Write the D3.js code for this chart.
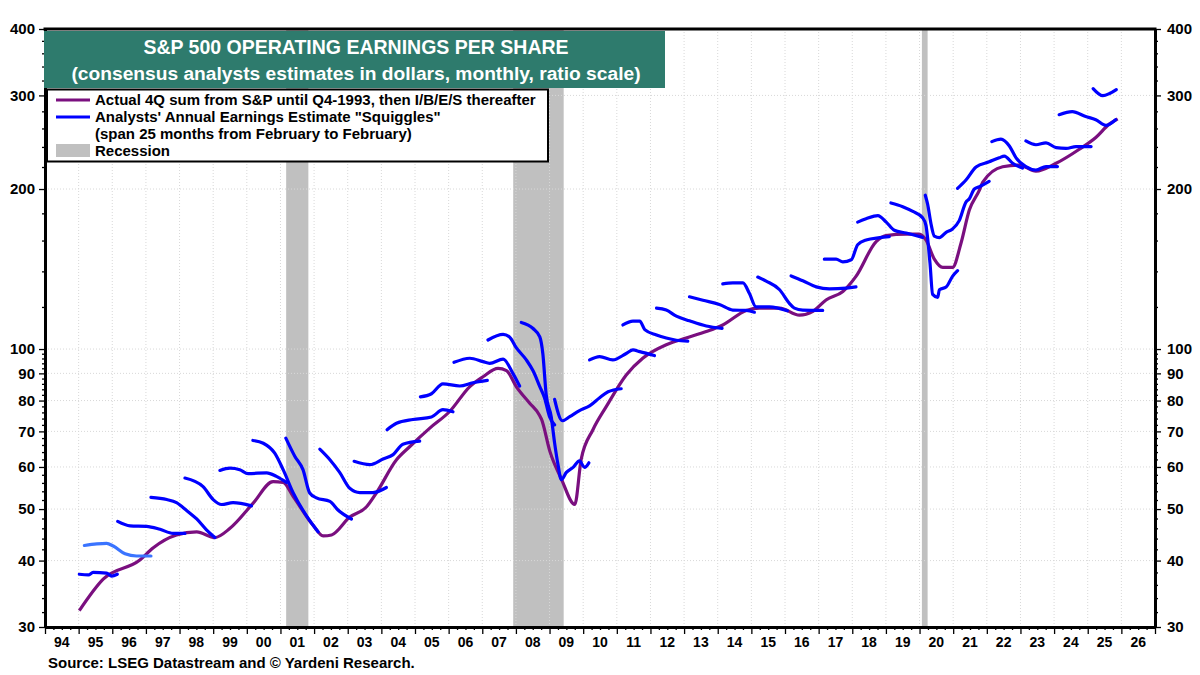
<!DOCTYPE html>
<html>
<head>
<meta charset="utf-8">
<script src="https://cdn.jsdelivr.net/npm/d3@7"></script>
<style>
  body { margin: 0; background: #fff; }
  svg { display: block; font-family: "Liberation Sans", Arial, sans-serif; font-weight: bold; }
</style>
</head>
<body>
<svg id="chart" width="1200" height="675"></svg>
<script>
// actual 4Q sum (decimal year, dollars)
const actualDates = [1995.02, 1995.73, 1996.82, 1997.22, 1997.91, 1998.51, 1999.05, 1999.50, 2000.19, 2000.78,
  2001.08, 2001.38, 2001.97, 2002.27, 2002.52, 2003.06, 2003.56, 2003.85, 2004.45, 2004.84, 2005.44, 2006.03,
  2006.63, 2007.02, 2007.47, 2007.72, 2008.01, 2008.41, 2008.70, 2008.76, 2009.01, 2009.35, 2009.75, 2009.94,
  2010.29, 2010.69, 2011.28, 2011.77, 2012.47, 2013.06, 2013.66, 2014.15, 2014.85, 2015.24, 2015.84, 2016.43,
  2016.83, 2017.22, 2017.72, 2018.11, 2018.71, 2019.00, 2019.60, 2019.99, 2020.19, 2020.44, 2020.69, 2020.98,
  2021.23, 2021.48, 2021.78, 2021.88, 2022.47, 2022.97, 2023.46, 2024.06, 2024.75, 2025.24, 2025.64, 2025.89];
const actualValues = [32.2, 36.9, 40.1, 42.3, 44.7, 45.3, 44.2, 46.0, 51.3, 56.3,
  56.1, 52.8, 46.6, 44.5, 44.7, 48.3, 50.5, 53.6, 61.9, 65.5, 71.0, 76.3,
  85.0, 88.7, 92.0, 91.1, 85.0, 79.1, 75.1, 73.8, 64.2, 57.0, 51.0, 62.0,
  70.5, 78.0, 89.4, 96.1, 101.9, 104.9, 107.9, 111.0, 118.2, 119.4, 119.4, 115.8,
  117.7, 123.7, 128.3, 137.0, 159.3, 163.5, 164.5, 164.5, 160.4, 147.6, 142.4, 142.4,
  158.0, 182.6, 199.0, 206.0, 220.3, 221.9, 216.0, 223.6, 237.6, 250.0, 264.9, 271.0];

// analysts' annual estimate squiggles, one per estimated year
const squiggleYears = [1995, 1996, 1997, 1998, 1999, 2000, 2001, 2002, 2003, 2004, 2005, 2006, 2007, 2008,
  2009, 2010, 2011, 2012, 2013, 2014, 2015, 2016, 2017, 2018, 2019, 2020, 2021, 2022, 2023, 2024, 2025, 2026];
const squiggleDates = [
  [1995.02, 1995.29, 1995.43, 1995.83, 1995.98, 1996.15],
  [1995.17, 1995.54, 1995.83, 1996.03, 1996.38, 1996.72, 1997.15],
  [1996.16, 1996.53, 1997.02, 1997.42, 1997.81, 1998.16],
  [1997.15, 1997.62, 1997.91, 1998.21, 1998.51, 1998.80, 1999.05],
  [1998.16, 1998.70, 1999.00, 1999.25, 1999.59, 2000.14],
  [1999.20, 1999.50, 1999.79, 2000.04, 2000.59, 2000.88, 2001.18],
  [2000.18, 2000.49, 2000.83, 2001.08, 2001.38, 2001.77, 2002.12],
  [2001.16, 2001.43, 2001.67, 2001.87, 2002.07, 2002.47, 2002.71, 2003.11],
  [2002.17, 2002.47, 2002.76, 2003.06, 2003.36, 2003.75, 2004.15],
  [2003.19, 2003.66, 2004.05, 2004.35, 2004.64, 2005.14],
  [2004.17, 2004.45, 2004.94, 2005.49, 2005.83, 2006.13],
  [2005.16, 2005.49, 2005.83, 2006.33, 2006.72, 2007.15],
  [2006.16, 2006.63, 2007.02, 2007.22, 2007.62, 2007.91, 2008.11],
  [2007.17, 2007.62, 2007.81, 2008.01, 2008.31, 2008.51, 2008.71, 2008.85, 2009.00, 2009.15],
  [2008.16, 2008.51, 2008.71, 2008.80, 2008.90, 2009.05, 2009.15, 2009.25, 2009.35, 2009.50, 2009.70, 2009.89, 2010.04, 2010.17],
  [2009.15, 2009.38, 2009.60, 2009.89, 2010.19, 2010.49, 2010.74, 2011.13],
  [2010.19, 2010.49, 2010.88, 2011.28, 2011.48, 2011.68, 2012.12],
  [2011.18, 2011.48, 2011.68, 2011.83, 2012.18, 2012.47, 2012.77, 2013.11],
  [2012.18, 2012.47, 2012.77, 2013.16, 2013.66, 2014.13],
  [2013.16, 2013.56, 2014.05, 2014.45, 2014.85, 2015.09],
  [2014.15, 2014.45, 2014.75, 2014.94, 2015.14, 2015.54, 2016.07],
  [2015.19, 2015.44, 2015.84, 2016.13, 2016.28, 2016.53, 2017.12],
  [2016.18, 2016.53, 2016.93, 2017.32, 2017.82, 2018.11],
  [2017.17, 2017.52, 2017.72, 2017.97, 2018.16, 2018.41, 2018.81, 2019.10],
  [2018.16, 2018.41, 2018.76, 2019.01, 2019.25, 2019.60, 2020.09],
  [2019.15, 2019.50, 2019.80, 2020.09, 2020.19, 2020.31, 2020.39, 2020.54, 2020.59, 2020.79, 2020.98, 2021.13],
  [2020.17, 2020.24, 2020.34, 2020.44, 2020.59, 2020.79, 2020.98, 2021.18, 2021.38, 2021.48, 2021.63, 2021.78, 2022.07],
  [2021.13, 2021.38, 2021.68, 2022.07, 2022.37, 2022.52, 2022.77, 2023.06],
  [2022.15, 2022.42, 2022.67, 2022.87, 2023.16, 2023.46, 2023.76, 2024.10],
  [2023.16, 2023.46, 2023.76, 2024.06, 2024.36, 2024.65, 2025.10],
  [2024.15, 2024.54, 2024.94, 2025.24, 2025.54, 2025.83],
  [2025.16, 2025.45, 2025.65, 2025.85]
];
const squiggleValues = [
  [37.7, 37.6, 38.0, 37.9, 37.4, 37.7],
  [42.7, 43.0, 43.1, 42.6, 41.2, 40.8, 40.8],
  [47.4, 46.5, 46.4, 45.8, 45.0, 45.0],
  [52.6, 52.1, 51.4, 49.7, 47.9, 45.7, 44.2],
  [57.2, 55.1, 52.1, 51.0, 51.4, 50.7],
  [59.1, 59.7, 59.3, 58.3, 58.5, 57.6, 56.1],
  [67.3, 66.5, 63.7, 59.3, 53.6, 48.6, 45.3],
  [68.0, 62.8, 59.3, 53.6, 52.5, 51.7, 49.8, 47.9],
  [64.8, 61.9, 58.6, 54.7, 53.7, 53.7, 54.9],
  [61.5, 60.6, 62.1, 63.3, 66.2, 67.1],
  [70.5, 72.5, 73.7, 74.5, 76.9, 76.2],
  [81.3, 82.4, 86.0, 85.2, 86.4, 87.3],
  [94.4, 96.1, 94.7, 94.0, 95.7, 90.0, 85.2],
  [104.0, 106.6, 105.4, 100.6, 95.4, 91.0, 85.0, 81.0, 74.6, 72.0],
  [112.2, 109.3, 105.4, 98.1, 82.1, 74.6, 66.6, 60.7, 56.8, 58.6, 59.9, 61.6, 59.9, 61.1],
  [80.4, 73.3, 74.6, 76.6, 78.2, 81.0, 83.1, 84.2],
  [95.4, 96.8, 95.4, 98.1, 99.6, 98.9, 97.2],
  [111.0, 112.9, 112.9, 108.8, 106.3, 104.9, 103.9, 103.5],
  [119.4, 118.4, 115.3, 113.0, 110.5, 109.4],
  [125.4, 123.5, 121.3, 118.4, 118.2, 117.3],
  [132.6, 133.2, 133.2, 127.3, 120.0, 120.0, 118.0],
  [136.6, 134.2, 129.3, 121.9, 119.4, 118.4, 118.2],
  [137.3, 134.4, 130.9, 129.8, 130.2, 130.9],
  [147.6, 147.6, 145.9, 147.2, 157.1, 160.4, 162.0, 162.7],
  [173.3, 175.8, 178.3, 173.3, 167.3, 165.3, 162.2],
  [188.3, 185.3, 181.5, 176.6, 170.9, 145.2, 126.7, 125.1, 129.3, 130.8, 137.0, 140.4],
  [194.7, 187.3, 172.1, 163.1, 162.1, 165.8, 168.2, 174.4, 189.0, 191.7, 200.0, 202.0, 206.7],
  [200.6, 208.0, 220.0, 225.0, 229.0, 230.7, 223.6, 219.0],
  [245.6, 248.3, 241.0, 228.9, 220.4, 217.2, 220.4, 220.4],
  [246.3, 242.3, 244.3, 239.3, 238.5, 240.4, 240.4],
  [276.0, 279.6, 273.8, 270.0, 263.5, 270.0],
  [309.0, 299.6, 302.5, 307.7]
];
const lightSquiggles = [1996];

const recessionStarts = [2001.17, 2007.92, 2020.07];
const recessionEnds = [2001.83, 2009.42, 2020.24];

const yMajor = [30, 40, 50, 60, 70, 80, 90, 100, 200, 300, 400];
const yMinor = [32, 34, 36, 38, 42, 44, 46, 48, 52, 54, 56, 58, 62, 64, 66, 68, 72, 74, 76, 78, 82, 84, 86, 88,
  92, 94, 96, 98, 120, 140, 160, 180, 220, 240, 260, 280, 320, 340, 360, 380];
const yearTicks = d3.range(1994, 2028);
const yearLabels = d3.range(1994, 2027);

const svg = d3.select("#chart");
const plotLeft = 45, plotRight = 1155, plotTop = 29, plotBottom = 627;

const x = d3.scaleLinear().domain([1994, 2027]).range([plotLeft, plotRight]);
const y = d3.scaleLog().domain([30, 400]).range([plotBottom, plotTop]);

// recession bars
svg.append("g").selectAll("rect")
  .data(recessionStarts)
  .enter().append("rect")
  .attr("x", d => x(d))
  .attr("y", plotTop)
  .attr("width", (d, i) => x(recessionEnds[i]) - x(d))
  .attr("height", plotBottom - plotTop)
  .attr("fill", "#c0c0c0");

// grid
const grid = svg.append("g").attr("stroke", "#d8d8d8").attr("stroke-dasharray", "1,2").attr("stroke-width", 1);
grid.selectAll("line.v").data(yearTicks.slice(1, -1)).enter().append("line")
  .attr("x1", d => x(d)).attr("x2", d => x(d)).attr("y1", plotTop).attr("y2", plotBottom);
grid.selectAll("line.h").data(yMajor.slice(1, -1)).enter().append("line")
  .attr("x1", plotLeft).attr("x2", plotRight).attr("y1", d => y(d)).attr("y2", d => y(d));

const line = d3.line().x(d => x(d[0])).y(d => y(d[1])).curve(d3.curveMonotoneX);

// actual
svg.append("path")
  .datum(actualDates.map((d, i) => [d, actualValues[i]]))
  .attr("d", line)
  .attr("fill", "none")
  .attr("stroke", "#7a0f7f")
  .attr("stroke-width", 3.2)
  .attr("stroke-linejoin", "round");

// squiggles
svg.append("g").selectAll("path")
  .data(squiggleYears)
  .enter().append("path")
  .attr("d", (yr, i) => line(squiggleDates[i].map((d, j) => [d, squiggleValues[i][j]])))
  .attr("fill", "none")
  .attr("stroke", yr => lightSquiggles.includes(yr) ? "#3a74ff" : "#0000ff")
  .attr("stroke-width", 3.2)
  .attr("stroke-linejoin", "round")
  .attr("stroke-linecap", "round");

// axes
function styleAxis(g) {
  g.select(".domain").attr("stroke", "#000").attr("stroke-width", 3);
  g.selectAll(".tick line").attr("stroke", "#000").attr("stroke-width", 1.3);
  g.selectAll(".tick text").attr("font-size", 15).attr("font-weight", "bold").attr("fill", "#000")
    .attr("font-family", "'Liberation Sans', Arial, sans-serif");
}
const fmt = d3.format("d");
svg.append("g").attr("transform", `translate(${plotLeft},0)`)
  .call(d3.axisLeft(y).tickValues(yMinor).tickSize(3).tickSizeOuter(0).tickFormat(""))
  .call(styleAxis);
svg.append("g").attr("transform", `translate(${plotLeft},0)`)
  .call(d3.axisLeft(y).tickValues(yMajor).tickSize(6).tickSizeOuter(0).tickFormat(fmt).tickPadding(4))
  .call(styleAxis);
svg.append("g").attr("transform", `translate(${plotRight},0)`)
  .call(d3.axisRight(y).tickValues(yMinor).tickSize(3).tickSizeOuter(0).tickFormat(""))
  .call(styleAxis);
svg.append("g").attr("transform", `translate(${plotRight},0)`)
  .call(d3.axisRight(y).tickValues(yMajor).tickSize(6).tickSizeOuter(0).tickFormat(fmt).tickPadding(6))
  .call(styleAxis);

const quarterTicks = d3.range(1994, 2027.01, 0.25).filter(d => d % 1 !== 0);
svg.append("g").attr("transform", `translate(0,${plotBottom})`)
  .call(d3.axisBottom(x).tickValues(quarterTicks).tickSize(3).tickSizeOuter(0).tickFormat(""))
  .call(styleAxis);
svg.append("g").attr("transform", `translate(0,${plotBottom})`)
  .call(d3.axisBottom(x).tickValues(yearTicks).tickSize(7).tickSizeOuter(0).tickFormat(""))
  .call(styleAxis);
svg.append("g").selectAll("text")
  .data(yearLabels)
  .enter().append("text")
  .attr("x", d => x(d + 0.5))
  .attr("y", 647)
  .attr("text-anchor", "middle")
  .attr("font-size", 14)
  .text(d => String(d % 100).padStart(2, "0"));

// top frame
svg.append("line").attr("x1", plotLeft - 1.5).attr("x2", plotRight + 1.5).attr("y1", plotTop).attr("y2", plotTop)
  .attr("stroke", "#000").attr("stroke-width", 3);

// title box
svg.append("rect").attr("x", 44).attr("y", 31).attr("width", 621).attr("height", 57).attr("fill", "#2e7b6d");
svg.append("text").attr("x", 356).attr("y", 54).attr("text-anchor", "middle").attr("fill", "#fff")
  .attr("font-size", 19.5).text("S&P 500 OPERATING EARNINGS PER SHARE");
svg.append("text").attr("x", 356).attr("y", 80).attr("text-anchor", "middle").attr("fill", "#fff")
  .attr("font-size", 19.2).text("(consensus analysts estimates in dollars, monthly, ratio scale)");

// legend
const lg = svg.append("g");
lg.append("rect").attr("x", 47).attr("y", 89.5).attr("width", 501).attr("height", 72)
  .attr("fill", "#fff").attr("stroke", "#000").attr("stroke-width", 2);
lg.append("line").attr("x1", 56).attr("x2", 90).attr("y1", 100).attr("y2", 100)
  .attr("stroke", "#7a0f7f").attr("stroke-width", 3);
lg.append("line").attr("x1", 56).attr("x2", 90).attr("y1", 117).attr("y2", 117)
  .attr("stroke", "#0000ff").attr("stroke-width", 3);
lg.append("rect").attr("x", 56).attr("y", 144).attr("width", 34).attr("height", 13).attr("fill", "#c0c0c0");
const legendText = [
  "Actual 4Q sum from S&P until Q4-1993, then I/B/E/S thereafter",
  "Analysts' Annual Earnings Estimate \"Squiggles\"",
  "(span 25 months from February to February)",
  "Recession"
];
lg.selectAll("text.item").data(legendText).enter().append("text")
  .attr("x", 95).attr("y", (d, i) => 105 + i * 17)
  .attr("font-size", 15).text(d => d);

svg.append("text").attr("x", 48).attr("y", 668).attr("font-size", 15)
  .text("Source: LSEG Datastream and \u00A9 Yardeni Research.");
</script>
</body>
</html>
